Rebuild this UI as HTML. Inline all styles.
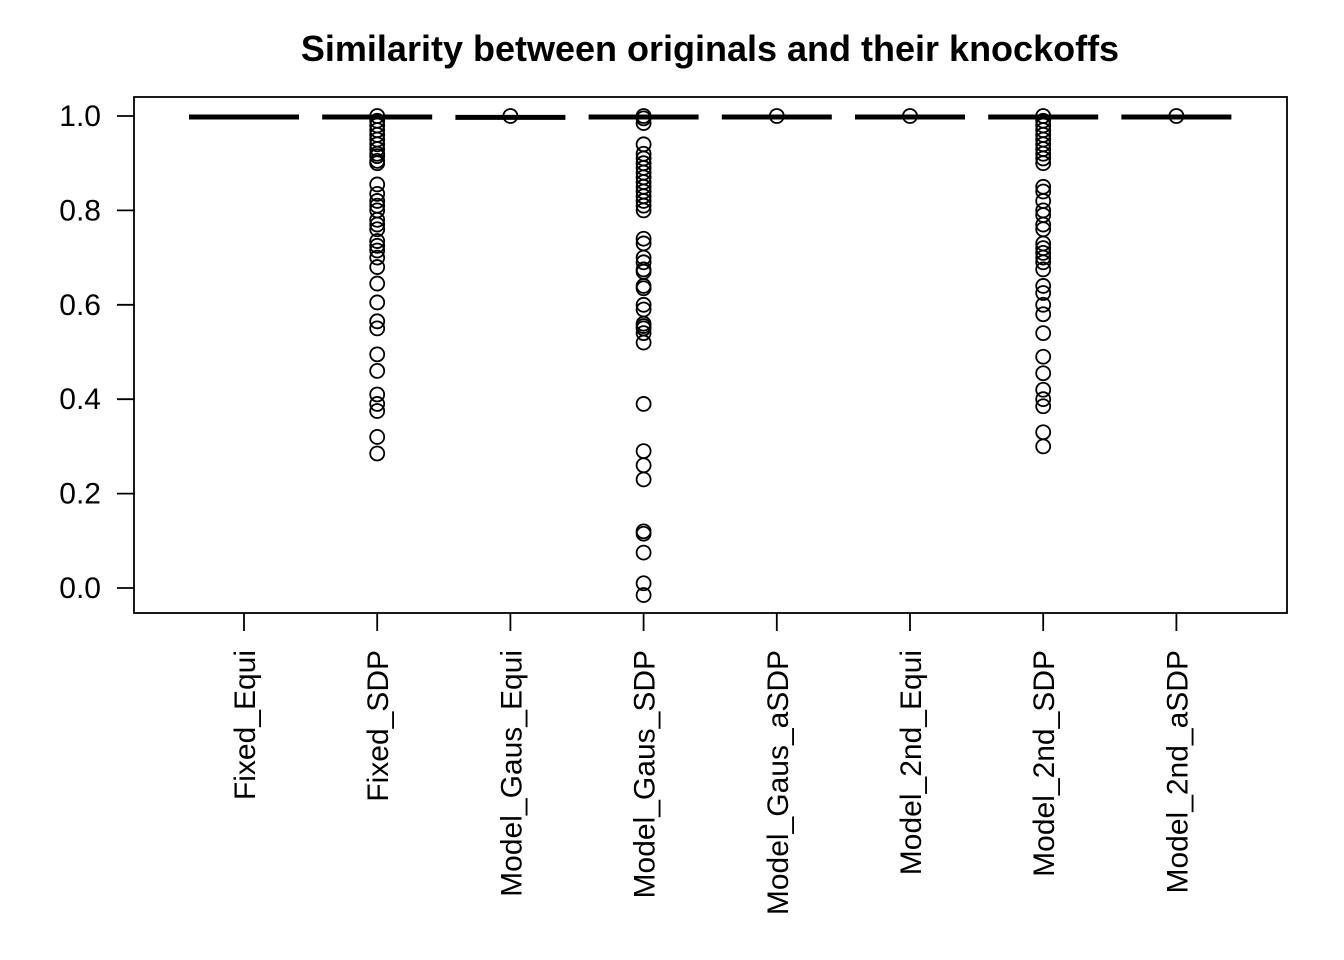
<!DOCTYPE html>
<html><head><meta charset="utf-8"><style>body{margin:0;background:#fff}svg{display:block}</style></head>
<body>
<svg id="c" width="1344" height="960" xmlns="http://www.w3.org/2000/svg" font-family="Liberation Sans, Arial, sans-serif"></svg>
<script>
const categories=["Fixed_Equi","Fixed_SDP","Model_Gaus_Equi","Model_Gaus_SDP","Model_Gaus_aSDP","Model_2nd_Equi","Model_2nd_SDP","Model_2nd_aSDP"];
const medians=[0.998,0.998,0.997,0.998,0.998,0.998,0.998,0.998];
const outFixedSDP=[1.0,0.99,0.98,0.97,0.96,0.95,0.94,0.93,0.92,0.915,0.905,0.9,0.855,0.835,0.82,0.81,0.80,0.78,0.77,0.76,0.735,0.725,0.715,0.70,0.68,0.645,0.605,0.565,0.55,0.495,0.46,0.41,0.39,0.375,0.32,0.285];
const outGausSDP=[1.0,0.995,0.985,0.94,0.92,0.91,0.9,0.89,0.88,0.87,0.86,0.85,0.84,0.83,0.82,0.81,0.80,0.74,0.73,0.70,0.69,0.675,0.67,0.64,0.635,0.60,0.59,0.56,0.555,0.55,0.54,0.52,0.39,0.29,0.26,0.23,0.12,0.115,0.075,0.01,-0.015];
const out2ndSDP=[1.0,0.99,0.98,0.97,0.96,0.95,0.94,0.93,0.92,0.91,0.9,0.85,0.84,0.82,0.8,0.79,0.77,0.76,0.73,0.72,0.71,0.70,0.69,0.675,0.64,0.625,0.60,0.58,0.54,0.49,0.455,0.42,0.40,0.385,0.33,0.30];
const outliers=[[],outFixedSDP,[1.0],outGausSDP,[1.0],[1.0],out2ndSDP,[1.0]];
const yTicks=[0,0.2,0.4,0.6,0.8,1.0];
const yTickLabels=["0.0","0.2","0.4","0.6","0.8","1.0"];

const svg=document.getElementById('c');const NS="http://www.w3.org/2000/svg";
const L=134,R=1287,T=97,B=613;
const y=v=>588-v*472;
const x=i=>244+i*133.2;
function mk(t,a,p){const e=document.createElementNS(NS,t);for(const k in a)e.setAttribute(k,a[k]);(p||svg).appendChild(e);return e;}
let e=mk('text',{x:710,y:61,'text-anchor':'middle','font-size':36,'font-weight':'bold'});e.textContent="Similarity between originals and their knockoffs";


e=mk('rect',{x:L,y:T,width:R-L,height:B-T,fill:'none',stroke:'#000','stroke-width':1.8});


yTicks.forEach((v,i)=>{
 e=mk('line',{x1:117,x2:L,y1:y(v),y2:y(v),stroke:'#000','stroke-width':1.8});
 
 
 e=mk('text',{x:101,y:y(v)+10,'text-anchor':'end','font-size':30});e.textContent=yTickLabels[i];
 
 
});
categories.forEach((c,i)=>{
 e=mk('line',{x1:x(i),x2:x(i),y1:B,y2:631,stroke:'#000','stroke-width':1.8});
 
 
 e=mk('text',{'transform':`translate(${x(i)+11},650) rotate(-90)`,'text-anchor':'end','font-size':30});e.textContent=c;
 
 
 e=mk('line',{x1:x(i)-55,x2:x(i)+55,y1:y(medians[i]),y2:y(medians[i]),stroke:'#000','stroke-width':5});
 
 
 outliers[i].forEach(v=>{
  e=mk('circle',{cx:x(i),cy:y(v),r:7,fill:'none',stroke:'#000','stroke-width':1.8});
  
  
 });
});
</script>
</body></html>
